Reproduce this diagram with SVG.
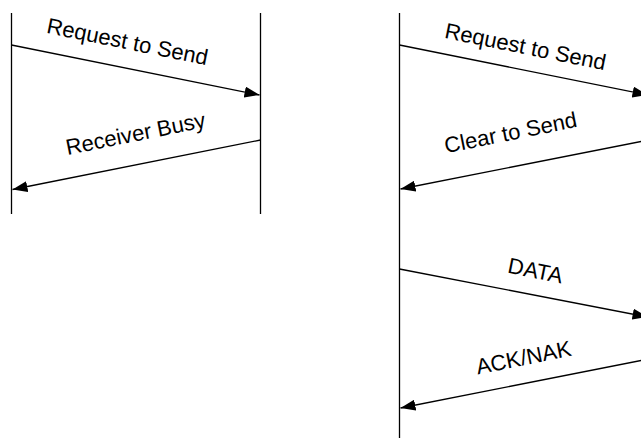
<svg xmlns="http://www.w3.org/2000/svg" width="641" height="438" viewBox="0 0 641 438">
<style>
.ll{stroke:#000;stroke-width:1.3;fill:none}
.msg{stroke:#000;stroke-width:1.3;fill:none;marker-end:url(#ah)}
.lbl{font-family:"Liberation Sans",Arial,sans-serif;font-size:22px;fill:#000;text-anchor:middle}
</style>
<defs>
<marker id="ah" viewBox="0 0 15 11" refX="15" refY="5.5" markerWidth="15" markerHeight="11" markerUnits="userSpaceOnUse" orient="auto">
<path d="M0,0 L15,5.5 L0,11 Z" fill="#000"/>
</marker>
</defs>
<rect width="641" height="438" fill="#fff"/>
<g id="lifelines">
<line class="ll" x1="11.5" y1="13" x2="11.5" y2="214"/>
<line class="ll" x1="260.5" y1="13" x2="260.5" y2="214"/>
<line class="ll" x1="399.5" y1="13" x2="399.5" y2="438"/>
<line class="ll" x1="648.5" y1="13" x2="648.5" y2="438"/>
</g>
<g id="connectors">
<line class="msg" x1="11.5" y1="45" x2="259.5" y2="95"/>
<line class="msg" x1="260.5" y1="140" x2="12.5" y2="189.5"/>
<line class="msg" x1="399.5" y1="45" x2="647.5" y2="95"/>
<line class="msg" x1="648.5" y1="140" x2="400.5" y2="189"/>
<line class="msg" x1="399.5" y1="269" x2="647.5" y2="317"/>
<line class="msg" x1="648.5" y1="359" x2="400.5" y2="408"/>
</g>
<g id="labels">
<text class="lbl" transform="translate(126,49) rotate(11.4)">Request to Send</text>
<text class="lbl" transform="translate(137,141) rotate(-11.4)">Receiver Busy</text>
<text class="lbl" transform="translate(524,54) rotate(11.4)">Request to Send</text>
<text class="lbl" transform="translate(512,140) rotate(-11.4)">Clear to Send</text>
<text class="lbl" transform="translate(534,278) rotate(11.4)">DATA</text>
<text class="lbl" transform="translate(525,365) rotate(-11.4)">ACK/NAK</text>
</g>
</svg>
